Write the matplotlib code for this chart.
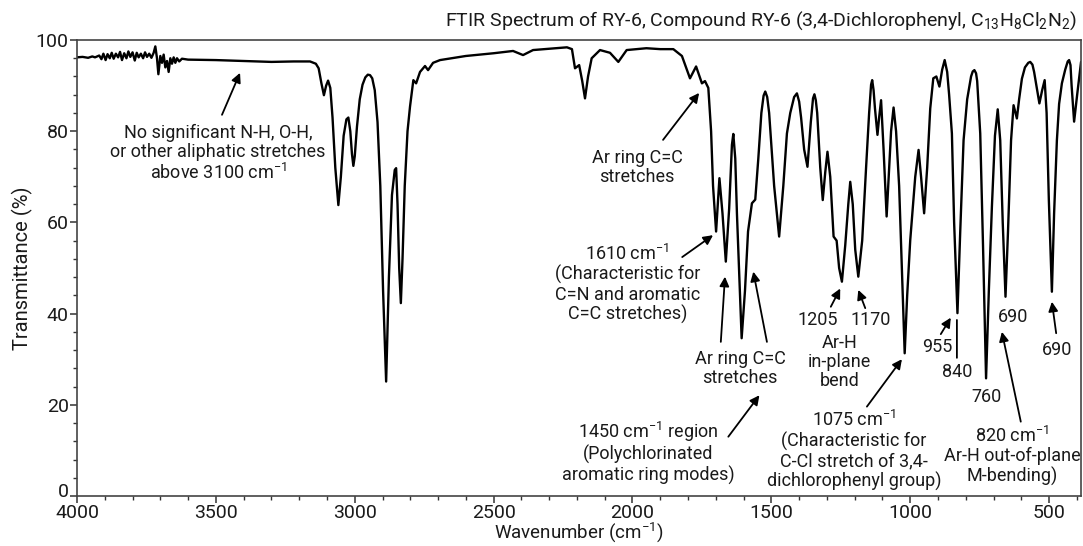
import matplotlib
matplotlib.use("Agg")
import matplotlib.pyplot as plt
import matplotlib.transforms as mtrans
import numpy as np

plt.rcParams['font.family'] = ['Roboto', 'DejaVu Sans']
plt.rcParams['mathtext.fontset'] = 'custom'
plt.rcParams['mathtext.rm'] = 'Roboto'
plt.rcParams['mathtext.it'] = 'Roboto:italic'
plt.rcParams['mathtext.default'] = 'regular'

# spectrum (wavenumber cm-1, transmittance %)
wn_high = [4000, 3980, 3960, 3945, 3935, 3920, 3912, 3905, 3897, 3890, 3882, 3875, 3868,
           3860, 3852, 3845, 3838, 3830, 3822, 3815, 3808, 3800, 3792, 3785, 3778, 3770,
           3762, 3755, 3748, 3740, 3732, 3724, 3718, 3712, 3707, 3700, 3694, 3688, 3682,
           3676, 3670, 3664, 3658, 3652, 3646, 3640, 3632, 3622, 3600, 3500, 3400, 3300,
           3220, 3161]
t_high = [96.2, 96.3, 96.1, 96.4, 96.2, 96.6, 95.8, 97.0, 95.6, 96.9, 96.0, 97.2, 95.9,
          97.0, 96.2, 97.4, 95.6, 97.1, 96.0, 97.5, 96.3, 97.3, 95.5, 97.2, 96.2, 97.0,
          96.0, 97.3, 96.3, 97.0, 96.1, 97.2, 98.6, 96.0, 92.5, 96.5, 95.0, 96.8, 94.0,
          95.4, 93.0, 96.0, 94.8, 96.2, 95.0, 96.0, 95.3, 95.9, 95.7, 95.6, 95.4, 95.2,
          95.3, 95.3]

wn_ch = [3140, 3130, 3120, 3111, 3103, 3096, 3088, 3080, 3070, 3059, 3050, 3040, 3030,
         3023, 3016, 3010, 3005, 3000, 2992, 2982, 2972, 2962, 2953, 2945, 2937, 2928,
         2918, 2908, 2898, 2887, 2877, 2866, 2856, 2851, 2846, 2840, 2834, 2828, 2820,
         2810, 2801, 2789, 2779, 2765, 2747, 2736, 2718, 2693]
t_ch = [94.8, 93.8, 90.5, 87.9, 90.0, 91.1, 89.5, 83.0, 72.0, 63.8, 70.0, 79.0, 82.6,
        83.0, 80.0, 75.0, 72.4, 74.5, 81.0, 87.0, 90.2, 91.8, 92.4, 92.3, 91.6, 89.0,
        82.0, 68.0, 45.0, 25.1, 48.0, 66.0, 71.5, 71.9, 64.0, 50.0, 42.3, 52.0, 68.0,
        80.0, 85.4, 91.2, 90.5, 93.0, 94.3, 93.4, 95.0, 95.6]

wn_mid = [2600, 2500, 2430, 2394, 2358, 2236, 2218, 2207, 2192, 2181, 2171, 2160, 2147,
          2117, 2081, 2051, 2021, 1950, 1900, 1853, 1822, 1793, 1771, 1750, 1739, 1727]
t_mid = [96.5, 97.1, 97.6, 96.7, 97.8, 98.4, 98.0, 93.8, 94.5, 91.0, 87.2, 92.0, 96.0,
         97.8, 97.2, 95.2, 97.8, 98.2, 98.0, 98.0, 96.5, 91.6, 94.2, 90.5, 91.0, 89.5]

wn_fp = [1717, 1710, 1699, 1687, 1676, 1664, 1652, 1642, 1637, 1630, 1624, 1607, 1595,
         1584, 1570, 1558, 1547, 1536, 1528, 1522, 1515, 1508, 1490, 1472, 1457, 1444,
         1432, 1418, 1408, 1400, 1393, 1382, 1370, 1358, 1350, 1345, 1340, 1335, 1324,
         1315, 1306, 1298, 1288, 1276, 1265, 1256, 1246, 1234, 1223, 1216, 1207, 1198,
         1187, 1173, 1159, 1148, 1141, 1137, 1132, 1127, 1118, 1112, 1105, 1096, 1085,
         1076, 1069, 1060, 1051, 1040, 1029, 1020, 1011, 1000, 982, 970, 961, 950, 939,
         928, 917, 906, 895, 885, 876, 867, 860, 850, 842, 830, 820, 808, 795, 781, 775,
         769, 763, 759, 748, 738, 727, 717, 706, 695, 685, 676, 667, 657, 648, 637, 628,
         616, 608, 598, 587, 575, 568, 560, 554, 535, 525, 516, 509, 501, 490, 482, 472,
         464, 454, 442, 433, 428, 423, 419, 410, 399, 385]
t_fp = [80.0, 68.0, 58.0, 69.7, 62.0, 51.4, 63.0, 77.0, 79.4, 74.0, 62.0, 34.6, 45.0,
        58.0, 64.2, 65.0, 74.0, 84.0, 87.8, 88.7, 87.5, 84.0, 68.0, 56.9, 68.0, 79.5,
        84.0, 87.5, 88.3, 86.5, 83.0, 76.0, 72.2, 82.0, 87.2, 88.1, 86.8, 84.0, 72.0,
        64.9, 71.0, 75.5, 70.0, 56.9, 56.0, 50.0, 47.0, 55.0, 64.0, 68.9, 64.0, 54.0,
        48.1, 56.0, 72.0, 84.0, 90.2, 91.2, 89.0, 85.0, 79.2, 83.0, 86.8, 76.0, 61.3,
        72.0, 80.0, 85.2, 80.0, 68.0, 48.0, 31.3, 44.0, 56.1, 70.0, 75.9, 70.0, 62.0,
        72.0, 85.0, 91.6, 92.0, 89.8, 93.5, 95.6, 93.0, 88.0, 79.5, 60.0, 40.1, 58.0,
        78.0, 87.0, 92.0, 93.1, 93.4, 92.7, 91.0, 79.5, 55.0, 25.8, 45.0, 63.4, 79.0,
        84.8, 78.0, 60.0, 43.7, 58.0, 78.0, 85.7, 82.8, 87.0, 91.5, 94.0, 95.0, 95.2,
        94.6, 93.0, 86.1, 89.0, 91.2, 84.0, 65.0, 44.8, 62.0, 78.0, 86.0, 90.5, 93.5,
        95.3, 95.6, 94.5, 90.0, 82.1, 88.0, 95.2]

wavenumber = np.array(wn_high + wn_ch + wn_mid + wn_fp)
transmittance = np.array(t_high + t_ch + t_mid + t_fp)

TXT = '#1a1a1a'
fs_note = 13

fig = plt.figure(figsize=(10.83, 5.46), dpi=100)
ax = fig.add_axes([0.0711, 0.0916, 0.9271, 0.8351])
ax.plot(wavenumber, transmittance, color='black', lw=1.7,
        solid_joinstyle='round', solid_capstyle='round')

ax.set_xlim(4000, 385)
ax.set_ylim(0, 100)
ax.set_xticks([4000, 3500, 3000, 2500, 2000, 1500, 1000, 500])
ax.set_xticks(np.arange(3900, 399, -100), minor=True)
ax.set_yticks([0, 20, 40, 60, 80, 100])
ax.set_yticks(np.arange(4, 100, 4), minor=True)
ax.tick_params(which='major', direction='out', length=5, width=1.1, labelsize=14,
               colors='#333333', labelcolor=TXT, pad=1)
ax.tick_params(axis='x', which='major', pad=1)
ax.tick_params(which='minor', direction='out', length=3, width=1.0, colors='#333333')
for s in ax.spines.values():
    s.set_linewidth(1.2)
    s.set_color('#444444')

# lift the "0" label a touch so it clears "4000"
zero_lbl = ax.yaxis.get_major_ticks()[0].label1
zero_lbl.set_transform(zero_lbl.get_transform() +
                       mtrans.ScaledTranslation(0, 4 / 72, fig.dpi_scale_trans))

ax.set_xlabel('Wavenumber (cm$^{-1}$)', fontsize=13.5, color=TXT, labelpad=-1.5)
ax.set_ylabel('Transmittance (%)', fontsize=14.5, color=TXT, labelpad=2)
fig.text(0.994, 0.962, 'FTIR Spectrum of RY-6, Compound RY-6 (3,4-Dichlorophenyl, '
         'C$_{13}$H$_8$Cl$_2$N$_2$)', ha='right', va='center', fontsize=14, color=TXT)

def note(x, y, s, **kw):
    ax.text(x, y, s, ha='center', va='center', fontsize=fs_note, color=TXT,
            linespacing=1.1, **kw)

def arrow(tip, tail, head=True):
    ax.annotate('', xy=tip, xytext=tail,
                arrowprops=dict(arrowstyle='-|>' if head else '-', color='black',
                                lw=1.3, mutation_scale=14, shrinkA=0, shrinkB=0))

note(3492, 75.2, 'No significant N-H, O-H,\nor other aliphatic stretches\nabove 3100 cm$^{-1}$')
arrow((3413, 92.8), (3478, 83.6))

note(1983, 72.1, 'Ar ring C=C\nstretches')
arrow((1760, 88.4), (1890, 78.1))

note(2019, 46.5, '1610 cm$^{-1}$\n(Characteristic for\nC=N and aromatic\nC=C stretches)')
arrow((1710, 57.2), (1821, 52.4))

note(1613, 28.0, 'Ar ring C=C\nstretches')
arrow((1667, 48.1), (1682, 33.8))
arrow((1565, 49.2), (1516, 33.8))

note(1944, 9.6, '1450 cm$^{-1}$ region\n(Polychlorinated\naromatic ring modes)')
arrow((1543, 22.1), (1655, 13.0))

note(1332, 38.6, '1205')
note(1144, 38.6, '1170')
note(1256, 29.4, 'Ar-H\nin-plane\nbend')
arrow((1252, 45.5), (1286, 41.5))
arrow((1187, 45.2), (1162, 41.2))

note(1202, 10.0, '1075 cm$^{-1}$\n(Characteristic for\nC-Cl stretch of 3,4-\ndichlorophenyl group)')
arrow((1030, 30.0), (1156, 19.6))

note(904, 32.6, '955')
arrow((854, 39.1), (890, 35.5))
note(832, 27.3, '840')
arrow((832, 38.6), (832, 30.3), head=False)
note(724, 21.8, '760')
note(628, 39.3, '690')
note(472, 32.0, '690')
arrow((490, 42.6), (474.6, 35.7))

note(633, 8.8, '820 cm$^{-1}$\nAr-H out-of-plane\nM-bending)')
arrow((670, 36.0), (602, 16.3))

fig.savefig('out.png', dpi=100)
